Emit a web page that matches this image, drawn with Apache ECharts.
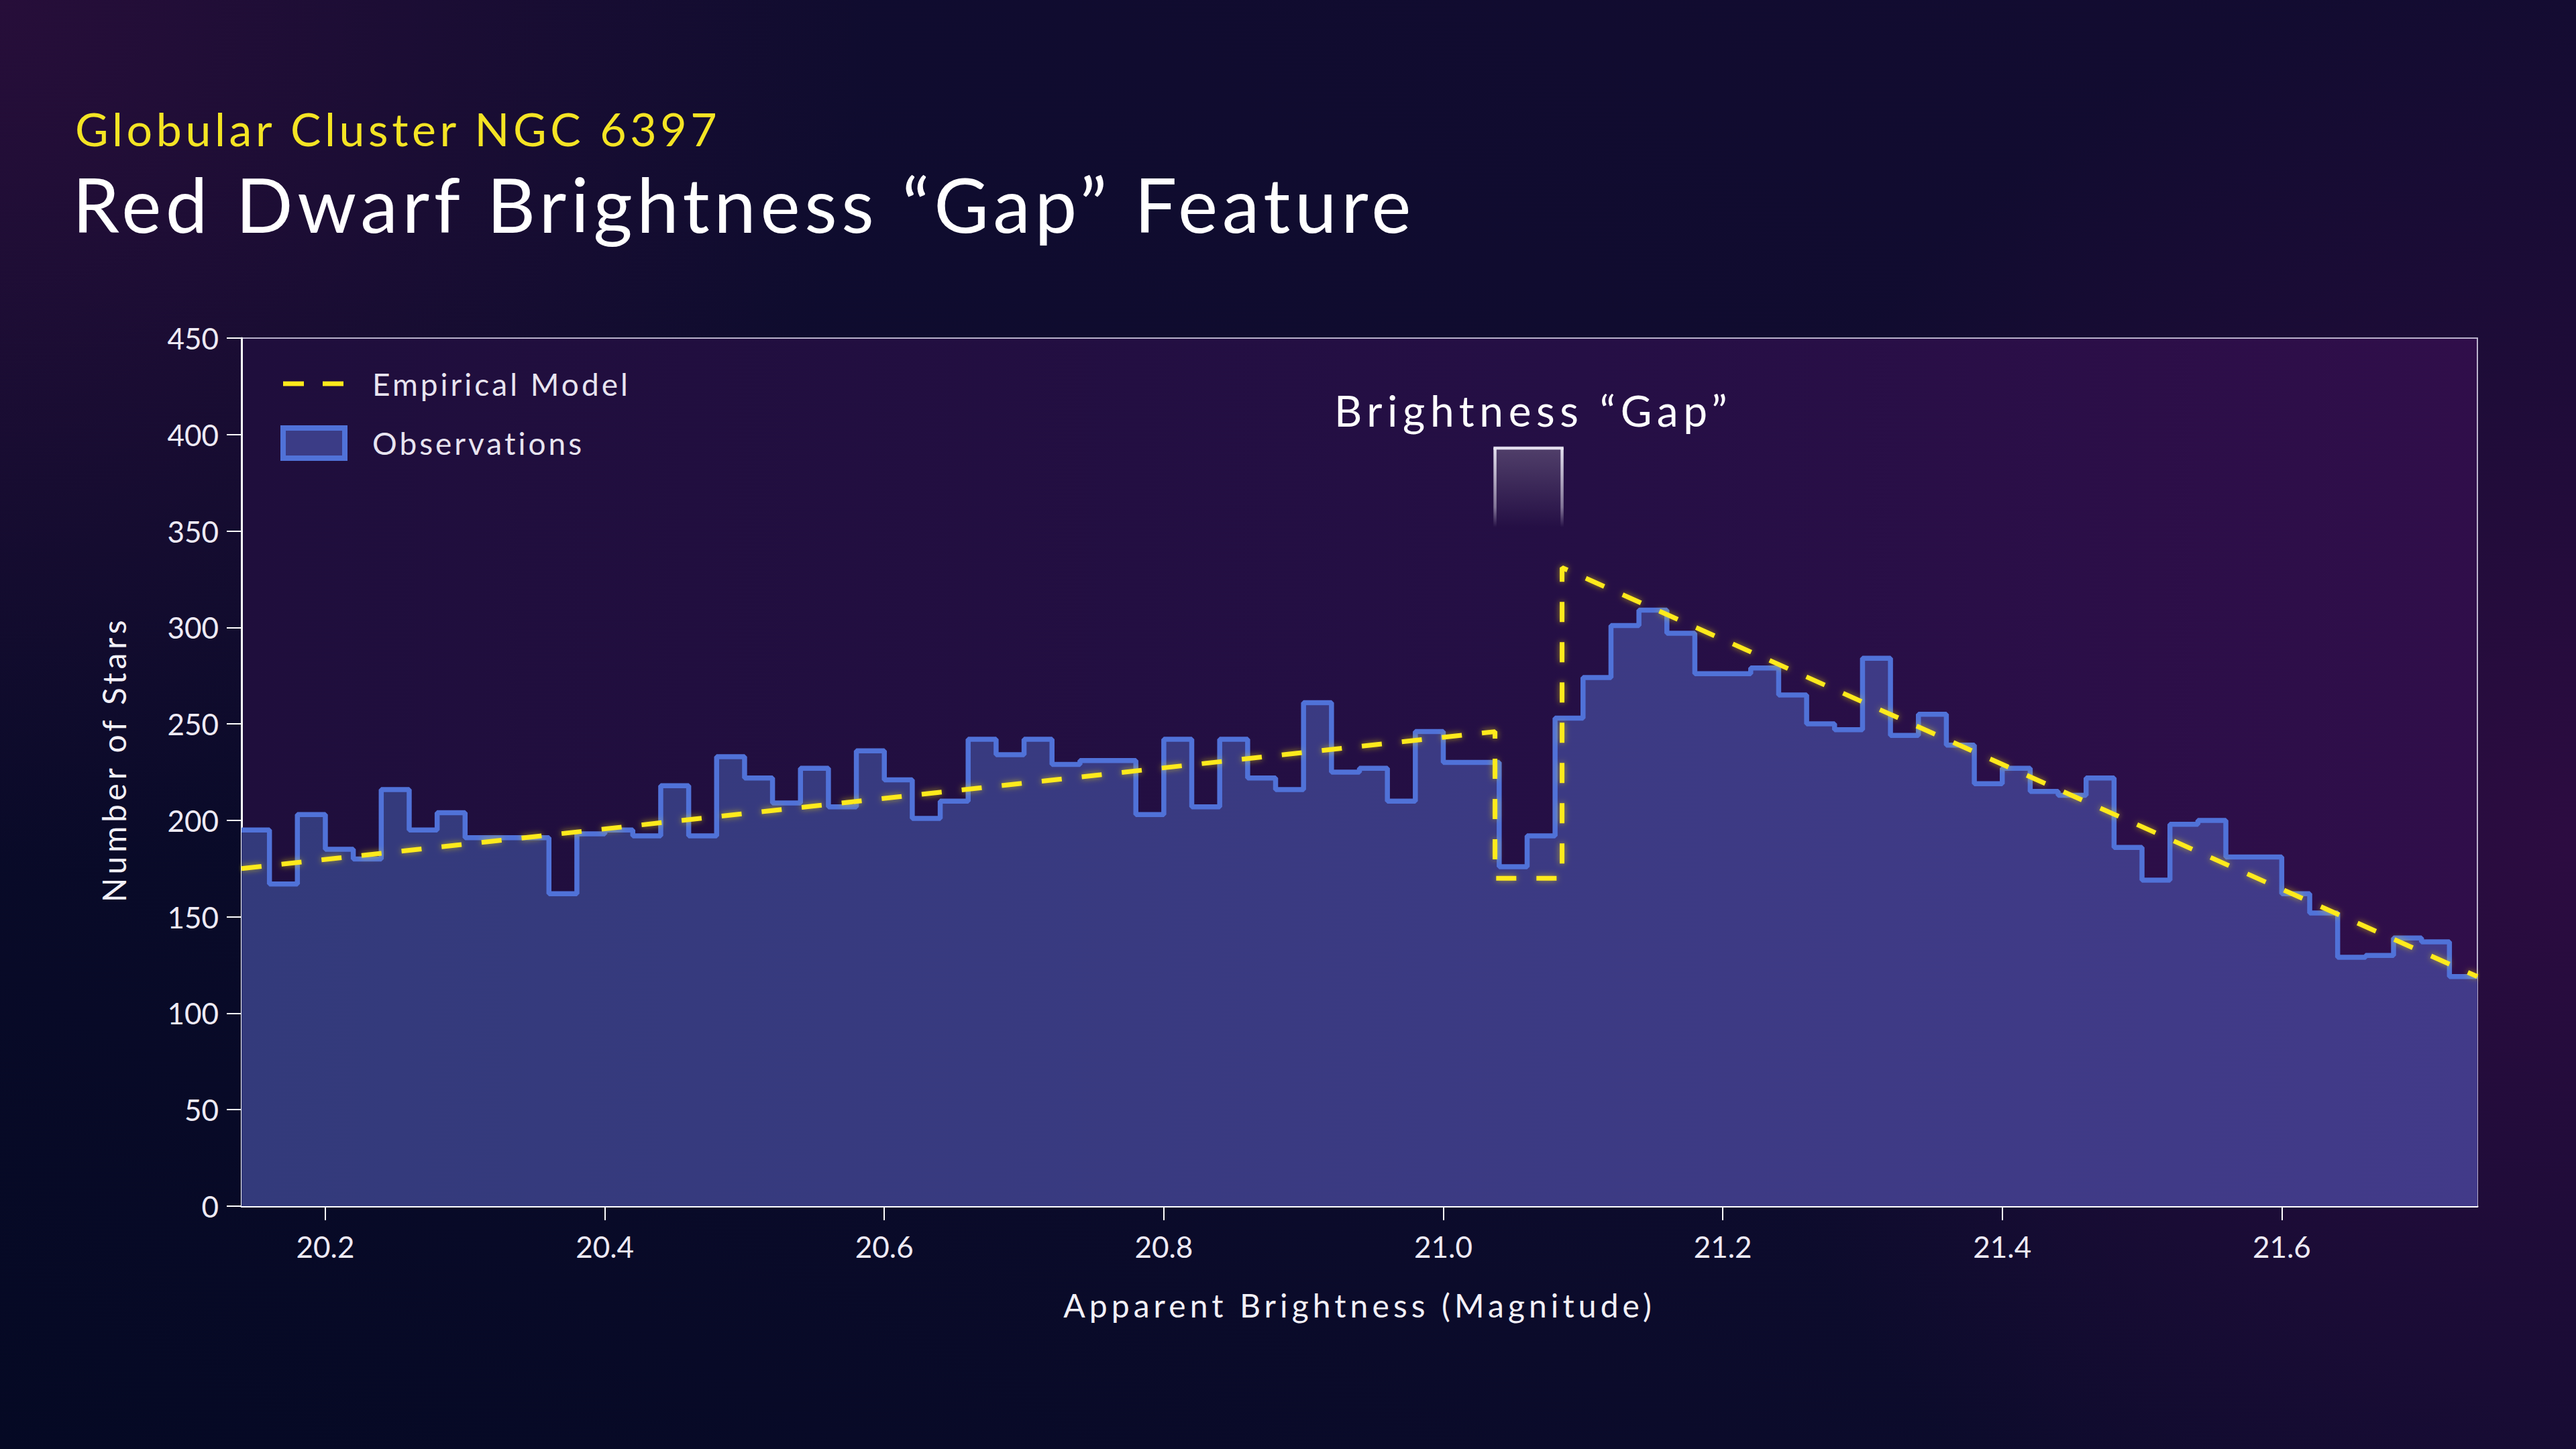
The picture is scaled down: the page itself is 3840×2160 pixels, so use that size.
<!DOCTYPE html>
<html>
<head>
<meta charset="utf-8">
<script src="https://cdn.jsdelivr.net/npm/echarts@6/dist/echarts.min.js"></script>
<style>
  html, body { margin: 0; padding: 0; background: #0a0b2a; }
  #chart { width: 3840px; height: 2160px; }
</style>
</head>
<body>
<div id="chart"></div>
<script>
// ---------- data ----------
const subtitleText = 'Globular Cluster NGC 6397';
const titleText = 'Red Dwarf Brightness \u201CGap\u201D Feature';
const xAxisName = 'Apparent Brightness (Magnitude)';
const yAxisName = 'Number of Stars';
const observationsName = 'Observations';
const modelName = 'Empirical Model';
const gapLabel = 'Brightness \u201CGap\u201D';

// histogram bin edges (magnitude)
const binEdges = [
  20.14,20.16,20.18,20.20,20.22,20.24,20.26,20.28,20.30,20.32,
  20.34,20.36,20.38,20.40,20.42,20.44,20.46,20.48,20.50,20.52,
  20.54,20.56,20.58,20.60,20.62,20.64,20.66,20.68,20.70,20.72,
  20.74,20.76,20.78,20.80,20.82,20.84,20.86,20.88,20.90,20.92,
  20.94,20.96,20.98,21.00,21.02,21.04,21.06,21.08,21.10,21.12,
  21.14,21.16,21.18,21.20,21.22,21.24,21.26,21.28,21.30,21.32,
  21.34,21.36,21.38,21.40,21.42,21.44,21.46,21.48,21.50,21.52,
  21.54,21.56,21.58,21.60,21.62,21.64,21.66,21.68,21.70,21.72,
  21.74
];
// star counts per bin
const counts = [
  195,167,203,185,180,216,195,204,191,191,
  191,162,193,195,192,218,192,233,222,209,
  227,207,236,221,201,210,242,234,242,229,
  231,231,203,242,207,242,222,216,261,225,
  227,210,246,230,230,176,192,253,274,301,
  309,297,276,276,279,265,250,247,284,244,
  255,239,219,227,215,213,222,186,169,198,
  200,181,181,162,152,129,130,139,137,119
];
// empirical model polyline [magnitude, stars]
const modelX = [20.14, 21.037, 21.037, 21.085, 21.085, 21.74];
const modelY = [175, 246, 170, 170, 331, 119];
// gap annotation box [xStart, xEnd, yTop, yFadeEnd]
const gapBox = [21.037, 21.085, 393, 352];

const xTicks = [20.2, 20.4, 20.6, 20.8, 21.0, 21.2, 21.4, 21.6];
const xMin = 20.14, xMax = 21.74;
const yMin = 0, yMax = 450, yStep = 50;

// ---------- chart ----------
const chart = echarts.init(document.getElementById('chart'), null, { renderer: 'svg', width: 3840, height: 2160 });

const histData = binEdges.map((e, i) => [e, counts[Math.min(i, counts.length - 1)]]);
const modelData = modelX.map((x, i) => [x, modelY[i]]);

const LG = echarts.graphic.LinearGradient;
const RG = echarts.graphic.RadialGradient;
const FONT = 'Lato';
// two short dashes, bounding box padded to the legend item box
const dashIcon = 'path://M0,0 M92,45 M0,19 L31,19 L31,26 L0,26 Z M59,19 L90,19 L90,26 L59,26 Z';

const option = {
  animation: false,
  backgroundColor: new LG(0, 1, 1, 0, [
    { offset: 0, color: '#050924' },
    { offset: 0.5, color: '#0e0c2e' },
    { offset: 1, color: '#130c31' }
  ]),
  textStyle: { fontFamily: FONT },
  graphic: [
    { type: 'rect', z: -10, silent: true, shape: { x: 0, y: 0, width: 3840, height: 2160 },
      style: { fill: new RG(0, 0, 1300, [
        { offset: 0, color: 'rgba(40,14,58,0.95)' },
        { offset: 1, color: 'rgba(40,14,58,0)' }], true) } },
    { type: 'rect', z: -10, silent: true, shape: { x: 0, y: 0, width: 3840, height: 2160 },
      style: { fill: new RG(3840, 1250, 1300, [
        { offset: 0, color: 'rgba(46,12,66,0.95)' },
        { offset: 1, color: 'rgba(46,12,66,0)' }], true) } }
  ],
  title: [
    { text: subtitleText, left: 112, top: 157, padding: 0,
      textStyle: { color: '#f4e424', fontSize: 68, fontWeight: 'normal', fontFamily: FONT, lineHeight: 68 } },
    { text: titleText, left: 108, top: 247, padding: 0,
      textStyle: { color: '#ffffff', fontSize: 112, fontWeight: 'normal', fontFamily: FONT, lineHeight: 112 } }
  ],
  legend: {
    orient: 'vertical', left: 418, top: 549, padding: 0,
    itemWidth: 92, itemHeight: 45, itemGap: 39,
    textStyle: { color: '#e8e4f0', fontSize: 46, fontFamily: FONT, padding: [0, 0, 0, 36] },
    data: [
      { name: modelName, icon: dashIcon, itemStyle: { color: '#ffea1c', borderWidth: 0 } },
      { name: observationsName, icon: 'rect',
        itemStyle: { color: '#3b3c86', borderColor: '#5072d8', borderWidth: 8 } }
    ]
  },
  grid: {
    left: 360, right: 147, top: 504, bottom: 362,
    show: true, borderColor: 'rgba(214,208,230,0.85)', borderWidth: 2,
    backgroundColor: new LG(0, 0, 1, 0, [
      { offset: 0, color: '#1f0e3c' },
      { offset: 0.6, color: '#250f45' },
      { offset: 1, color: '#300e4a' }
    ])
  },
  xAxis: {
    type: 'value', min: xMin, max: xMax,
    name: xAxisName, nameLocation: 'middle', nameGap: 123,
    nameTextStyle: { color: '#f2f0f7', fontSize: 48, fontFamily: FONT },
    axisLine: { show: true, lineStyle: { color: '#ffffff', width: 3 } },
    axisTick: { show: true, length: 21, lineStyle: { color: '#ffffff', width: 2 }, customValues: xTicks },
    axisLabel: { color: '#eeeaf5', fontSize: 44, margin: 38, fontFamily: FONT,
      customValues: xTicks, formatter: v => Number(v).toFixed(1) },
    splitLine: { show: false }
  },
  yAxis: {
    type: 'value', min: yMin, max: yMax, interval: yStep,
    name: yAxisName, nameLocation: 'middle', nameGap: 167,
    nameTextStyle: { color: '#f2f0f7', fontSize: 48, fontFamily: FONT, padding: [0, 0, 0, 38] },
    axisLine: { show: true, lineStyle: { color: '#ffffff', width: 3 } },
    axisTick: { show: true, length: 22, lineStyle: { color: '#ffffff', width: 2 } },
    axisLabel: { color: '#eeeaf5', fontSize: 44, margin: 34, fontFamily: FONT },
    splitLine: { show: false }
  },
  series: [
    {
      name: observationsName, type: 'line', step: 'end', symbol: 'none', z: 2,
      data: histData,
      lineStyle: { color: '#5072d8', width: 7.5 },
      itemStyle: { color: '#5072d8' },
      areaStyle: { opacity: 1, color: new LG(0, 0, 1, 0, [
        { offset: 0, color: '#333a7b' },
        { offset: 1, color: '#423a89' }]) }
    },
    {
      name: modelName, type: 'line', symbol: 'none', z: 3,
      data: modelData,
      lineStyle: { color: '#ffea1c', width: 7, type: [30, 30], cap: 'butt',
        shadowBlur: 10, shadowColor: 'rgba(255,230,0,0.55)' },
      itemStyle: { color: '#ffea1c' }
    },
    {
      name: 'gap', type: 'custom', z: 4, silent: true,
      data: [gapBox],
      encode: { x: [0, 1], y: [2, 3] },
      renderItem: function (params, api) {
        const p0 = api.coord([api.value(0), api.value(2)]);
        const p1 = api.coord([api.value(1), api.value(3)]);
        const w = p1[0] - p0[0], h = p1[1] - p0[1];
        const bw = 4.5;
        const fade = () => new LG(0, 0, 0, 1, [
          { offset: 0, color: 'rgba(236,233,246,0.95)' },
          { offset: 0.75, color: 'rgba(236,233,246,0.45)' },
          { offset: 1, color: 'rgba(236,233,246,0)' }]);
        return {
          type: 'group',
          children: [
            { type: 'rect', shape: { x: p0[0], y: p0[1], width: w, height: h },
              style: { fill: new LG(0, 0, 0, 1, [
                { offset: 0, color: 'rgba(255,255,255,0.2)' },
                { offset: 1, color: 'rgba(255,255,255,0)' }]) } },
            { type: 'rect', shape: { x: p0[0] - bw / 2, y: p0[1] - bw / 2, width: w + bw, height: bw },
              style: { fill: 'rgba(236,233,246,0.95)' } },
            { type: 'rect', shape: { x: p0[0] - bw / 2, y: p0[1], width: bw, height: h },
              style: { fill: fade() } },
            { type: 'rect', shape: { x: p1[0] - bw / 2, y: p0[1], width: bw, height: h },
              style: { fill: fade() } },
            { type: 'text',
              style: { text: gapLabel, x: (p0[0] + p1[0]) / 2 + 7, y: p0[1] - 56,
                fill: '#ffffff', fontSize: 64, fontFamily: FONT,
                align: 'center', verticalAlign: 'middle' } }
          ]
        };
      }
    }
  ]
};

chart.setOption(option);

// letter spacing (tracking) of the reference typography
const tracking = {};
tracking[subtitleText] = 5.6;
tracking[titleText] = 6.6;
tracking[gapLabel] = 7.6;
tracking[yAxisName] = 5.6;
tracking[xAxisName] = 6.1;
tracking[modelName] = 4;
tracking[observationsName] = 4;
function applyTracking() {
  document.querySelectorAll('#chart svg text').forEach(t => {
    const s = tracking[t.textContent];
    if (s != null) t.style.letterSpacing = s + 'px';
  });
}
chart.on('finished', applyTracking);
applyTracking();
setTimeout(applyTracking, 50);
setTimeout(applyTracking, 300);
</script>
</body>
</html>
